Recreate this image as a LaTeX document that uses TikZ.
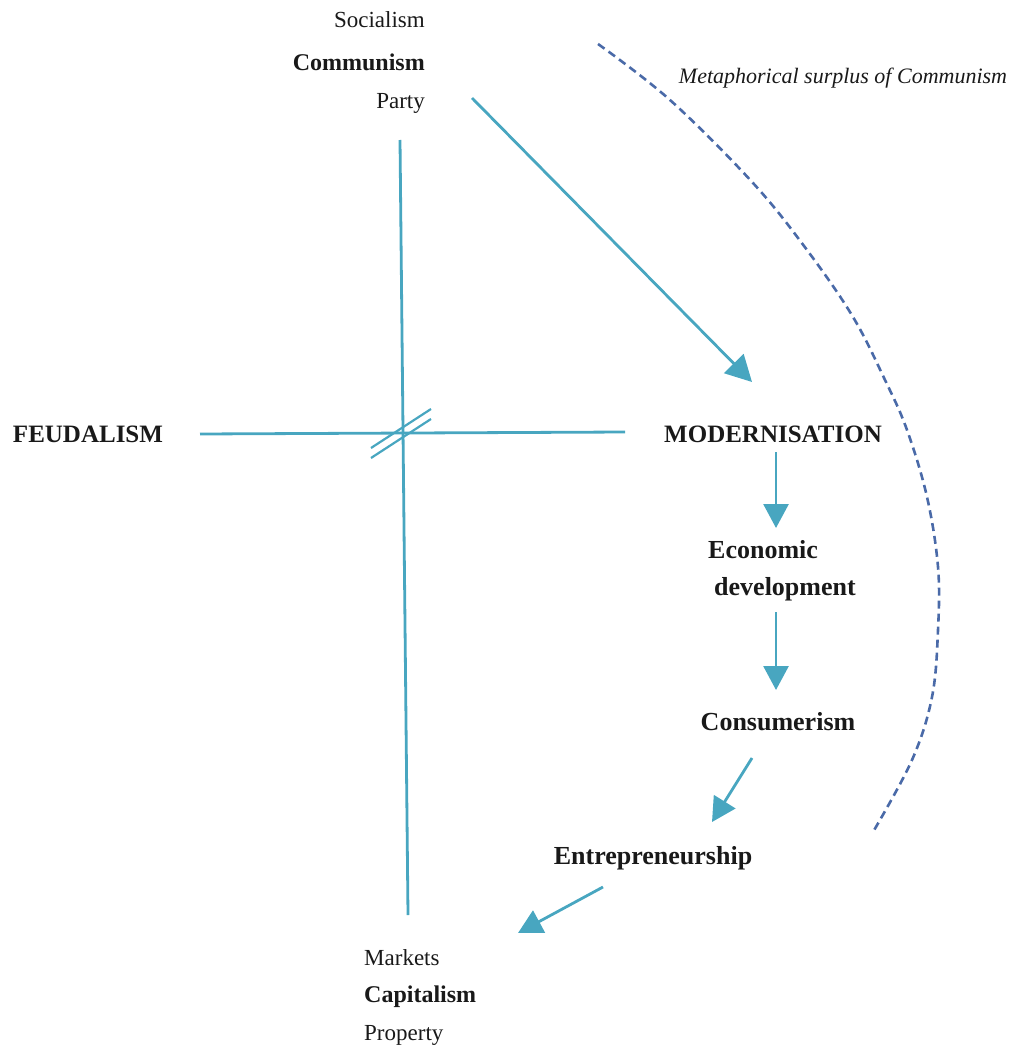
\documentclass[tikz,border=0pt]{standalone}
\usepackage{fontspec}
\setmainfont{Liberation Serif}
\usetikzlibrary{arrows.meta}
\definecolor{teal1}{RGB}{72,166,192}
\definecolor{dashblue}{RGB}{74,106,168}
\definecolor{ink}{RGB}{25,25,25}
\tikzset{
  reg/.style={inner sep=0pt, text=ink, font=\fontsize{23}{27}\selectfont},
  bld/.style={inner sep=0pt, text=ink, font=\fontsize{26}{37}\selectfont\bfseries},
  bldsm/.style={inner sep=0pt, text=ink, font=\fontsize{24}{28}\selectfont\bfseries},
  capsword/.style={inner sep=0pt, text=ink, font=\fontsize{25}{30}\selectfont\bfseries},
  itl/.style={inner sep=0pt, text=ink, font=\fontsize{22}{26}\selectfont\itshape},
  axis/.style={teal1, line width=2.8pt},
  flow/.style={teal1, line width=2.8pt, -{Triangle[length=24pt,width=25pt]}},
  bigflow/.style={teal1, line width=2.8pt, -{Triangle[length=26pt,width=27pt]}},
  surplus/.style={dashblue, line width=2.6pt, dash pattern=on 8pt off 5pt}
}
\begin{document}
\begin{tikzpicture}[x=1pt,y=-1pt]
\useasboundingbox (0,0) rectangle (1011,1048);
% texts
\node[reg, anchor=east] (soc) at (425,20) {Socialism};
\node[bldsm, anchor=east] (com) at (425,62) {Communism};
\node[reg, anchor=east] (party) at (425,103) {Party};
\node[itl] (meta) at (843,78) {Metaphorical surplus of Communism};
\node[capsword] (feud) at (88,434) {FEUDALISM};
\node[capsword] (mod) at (773,434) {MODERNISATION};
\node[bld, anchor=west, align=left] (eco) at (708,571) {Economic\\\hspace*{6pt}development};
\node[bld] (cons) at (778,722) {Consumerism};
\node[bld] (entre) at (653,858) {Entrepreneurship};
\node[reg, anchor=west] (mkt) at (364,958) {Markets};
\node[bldsm, anchor=west] (capt) at (364,997) {Capitalism};
\node[reg, anchor=west] (prop) at (364,1035) {Property};
% axis endpoints
\coordinate (vtop) at (400,140);
\coordinate (vbot) at (408,915);
\coordinate (hl) at (200,434);
\coordinate (hr) at (625,432);
\draw[axis] (vtop) -- (vbot);
\draw[axis] (hl) -- (hr);
% double slash
\coordinate (s1a) at (371,448); \coordinate (s1b) at (431,409);
\coordinate (s2a) at (371,458); \coordinate (s2b) at (431,419);
\draw[axis, line width=2.2pt] (s1a) -- (s1b);
\draw[axis, line width=2.2pt] (s2a) -- (s2b);
% flow arrows
\coordinate (a0s) at (472,98);  \coordinate (a0e) at (752,382);
\coordinate (a1s) at (776,452); \coordinate (a1e) at (776,528);
\coordinate (a2s) at (776,612); \coordinate (a2e) at (776,690);
\coordinate (a3s) at (752,758); \coordinate (a3e) at (712,822);
\coordinate (a4s) at (603,887); \coordinate (a4e) at (518,933);
\draw[bigflow] (a0s) -- (a0e);
\draw[flow] (a1s) -- (a1e);
\draw[flow] (a2s) -- (a2e);
\draw[flow] (a3s) -- (a3e);
\draw[flow] (a4s) -- (a4e);
% dashed arc
\draw[surplus] plot[smooth, tension=0.6] coordinates {(598,44) (670,100) (753,183) (807,250) (853,317) (885,380) (907,430) (927,497) (938,567) (938,630) (932,697) (912,760) (873,832)};
\end{tikzpicture}
\end{document}
